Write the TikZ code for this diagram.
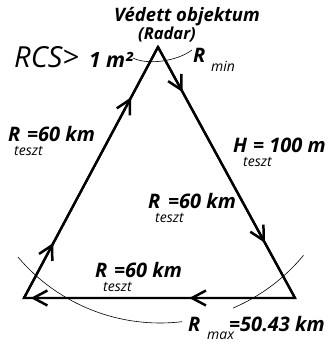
\documentclass[tikz,border=0pt]{standalone}
\usepackage{fontspec}
\setmainfont{Open Sans}
\usetikzlibrary{arrows.meta,decorations.markings}
\tikzset{
  edge/.style={line width=2.3pt, line cap=round, line join=miter},
  chevarrows/.style 2 args={postaction={decorate,decoration={markings,
     mark=at position #1 with {\arrow{Straight Barb[length=14pt,width=15pt,line width=2.5pt]}},
     mark=at position #2 with {\arrow{Straight Barb[length=14pt,width=15pt,line width=2.5pt]}}}}},
  thinarc/.style={line width=0.6pt},
  lbl/.style={inner sep=0pt, anchor=base west, font=\fontsize{20}{20}\selectfont\bfseries\itshape},
  sub/.style={inner sep=0pt, anchor=base west, font=\fontsize{14}{14}\selectfont\itshape},
}
\begin{document}
\begin{tikzpicture}[x=1pt,y=-1pt]
\useasboundingbox (0,0) rectangle (330,342);
\coordinate (A) at (158,47);
\coordinate (B) at (24,298);
\coordinate (C) at (295,298);
% triangle
\draw[edge] (A) -- (C) -- (B) -- cycle;
\draw[edge, chevarrows={0.18}{0.78}] (A) -- (C);
\draw[edge, chevarrows={0.39}{0.975}] (C) -- (B);
\draw[edge, chevarrows={0.22}{0.80}] (B) -- (A);
% arcs
\draw[thinarc] (133,58) .. controls (146,65) and (176,62) .. (192,50);
\draw[thinarc] (160,137) ++(139.8:186) arc[start angle=139.8, end angle=83.2, radius=186];
\draw[thinarc] (160,137) ++(66.9:186) arc[start angle=66.9, end angle=39.5, radius=186];
% texts
\node[inner sep=0pt, anchor=base, font=\fontsize{18.5}{18.5}\selectfont\bfseries\itshape] (ved) at (187,22) {Védett objektum};
\node[inner sep=0pt, anchor=base, font=\fontsize{16.5}{16.5}\selectfont\bfseries\itshape] (rad) at (167,40) {(Radar)};
\node[inner sep=0pt, anchor=base west, font=\fontsize{29}{29}\selectfont\itshape] (rcs) at (14,68) {RCS>};
\node[inner sep=0pt, anchor=base west, font=\fontsize{21}{21}\selectfont\bfseries\itshape] (onem) at (89,68) {1 m²};
\node[lbl] (rmin) at (193,63) {R};
\node[sub] (rminsub) at (211,72) {min};
% left
\node[lbl] (r1) at (8,141) {R};
\node[lbl] (r1v) at (27,141) {=60 km};
\node[sub] (r1s) at (14,155) {teszt};
% H
\node[lbl] (h) at (233,152) {H};
\node[lbl] (hv) at (253,152) {= 100 m};
\node[sub] (hs) at (243,166) {teszt};
% middle
\node[lbl] (r2) at (148,208) {R};
\node[lbl] (r2v) at (168,208) {=60 km};
\node[sub] (r2s) at (155,222) {teszt};
% bottom
\node[lbl] (r3) at (95,277) {R};
\node[lbl] (r3v) at (114,277) {=60 km};
\node[sub] (r3s) at (103,291) {teszt};
% Rmax
\node[lbl] (rmax) at (188,331) {R};
\node[sub] (rmaxs) at (207,339) {max};
\node[lbl] (rmaxv) at (229,331) {=50.43 km};
\end{tikzpicture}
\end{document}
